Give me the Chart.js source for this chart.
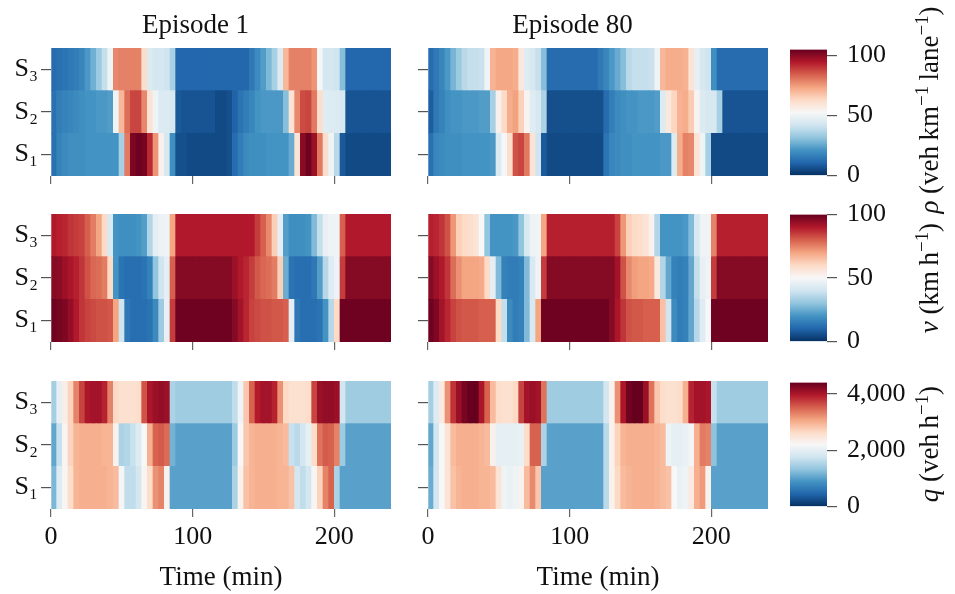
<!DOCTYPE html>
<html>
<head>
<meta charset="utf-8">
<script src="https://cdn.jsdelivr.net/npm/chart.js@4.4.1/dist/chart.umd.min.js"></script>
<style>
  body { margin: 0; background: #fff; width: 955px; height: 594px; overflow: hidden; position: relative; }
  canvas { position: absolute; }
  .cbl {
    position: absolute; transform: translate(-50%, -50%) rotate(-90deg);
    white-space: nowrap; font: 27px 'Liberation Serif', serif; color: #111; line-height: 1;
  }
  .cbl sup { font-size: 0.7em; vertical-align: 0.5em; line-height: 0; }
</style>
</head>
<body>
<canvas id="hm-rho-1" width="391" height="201" style="left:0;top:0"></canvas>
<canvas id="hm-rho-80" width="391" height="201" style="left:377px;top:0"></canvas>
<canvas id="hm-v-1" width="391" height="178" style="left:0;top:189px"></canvas>
<canvas id="hm-v-80" width="391" height="178" style="left:377px;top:189px"></canvas>
<canvas id="hm-q-1" width="391" height="238" style="left:0;top:356px"></canvas>
<canvas id="hm-q-80" width="391" height="238" style="left:377px;top:356px"></canvas>
<canvas id="cb-rho" width="147" height="177" style="left:790px;top:24px"></canvas>
<canvas id="cb-v" width="147" height="178" style="left:790px;top:189px"></canvas>
<canvas id="cb-q" width="147" height="175" style="left:790px;top:357px"></canvas>

<div class="cbl" style="left:929px;top:110px"><i>ρ</i> (veh&#8201;km<sup>−1</sup>&#8201;lane<sup>−1</sup>)</div>
<div class="cbl" style="left:929px;top:278px"><i>v</i> (km&#8201;h<sup>−1</sup>)</div>
<div class="cbl" style="left:929px;top:444px"><i>q</i> (veh&#8201;h<sup>−1</sup>)</div>

<script>
// --------------------------------------------------------------------------
// data: one value per 4-minute cell, rows S3 / S2 / S1
// --------------------------------------------------------------------------
const TIME = [0, 4, 8, 12, 16, 20, 24, 28, 32, 36, 40, 44, 48, 52, 56, 60, 64, 68, 72, 76,
  80, 84, 88, 92, 96, 100, 104, 108, 112, 116, 120, 124, 128, 132, 136, 140, 144, 148, 152, 156,
  160, 164, 168, 172, 176, 180, 184, 188, 192, 196, 200, 204, 208, 212, 216, 220, 224, 228, 232, 236];
const STEP = 4;
const ROWS = ['S₃', 'S₂', 'S₁'];
const X_TICKS = [0, 100, 200];
const EPISODES = ['Episode 1', 'Episode 80'];

// density (veh/km/lane)
const RHO_E1_S3 = [12, 13, 14, 15, 16, 18, 22, 27, 33, 40, 50, 78, 79, 79, 79, 79, 62, 45, 43, 43,
  42, 35, 11, 11, 11, 11, 11, 11, 11, 11, 11, 11, 11, 11, 11, 15, 19, 23, 29, 35,
  45, 70, 79, 79, 79, 79, 76, 52, 43, 43, 42, 30, 11, 11, 11, 11, 11, 11, 11, 11];
const RHO_E1_S2 = [13, 16, 17, 18, 19, 20, 21, 21, 22, 22, 23, 50, 70, 82, 88, 88, 78, 60, 50, 45,
  45, 44, 8, 7, 7, 7, 7, 7, 7, 5, 5, 6, 10, 14, 16, 18, 21, 22, 22, 22,
  22, 30, 60, 78, 87, 88, 80, 62, 46, 45, 45, 44, 7, 7, 7, 7, 7, 7, 7, 7];
const RHO_E1_S1 = [13, 17, 19, 20, 20, 20, 21, 21, 21, 21, 21, 21, 35, 80, 102, 104, 103, 92, 76, 55,
  44, 20, 6, 6, 5, 5, 5, 5, 5, 5, 5, 6, 12, 16, 19, 20, 20, 20, 21, 21,
  21, 21, 26, 60, 100, 104, 98, 80, 62, 50, 38, 8, 5, 5, 5, 5, 5, 5, 5, 5];
const RHO_E80_S3 = [12, 15, 18, 22, 28, 33, 38, 40, 40, 41, 50, 71, 73, 73, 73, 72, 58, 46, 44, 40,
  30, 12, 12, 12, 12, 12, 12, 12, 12, 12, 15, 18, 22, 26, 30, 38, 40, 40, 40, 41,
  50, 70, 72, 72, 72, 71, 60, 48, 44, 42, 20, 12, 12, 12, 12, 12, 12, 12, 12, 12];
const RHO_E80_S2 = [9, 15, 17, 20, 21, 21, 22, 22, 22, 23, 23, 35, 55, 63, 72, 74, 65, 54, 46, 44,
  36, 6, 6, 6, 6, 6, 6, 6, 6, 6, 6, 12, 16, 19, 20, 21, 21, 22, 22, 22,
  23, 45, 58, 64, 71, 72, 66, 54, 45, 44, 44, 35, 7, 7, 7, 7, 7, 7, 7, 7];
const RHO_E80_S1 = [13, 18, 19, 20, 20, 20, 21, 21, 21, 21, 21, 22, 45, 52, 62, 86, 88, 80, 60, 42,
  8, 5, 5, 5, 5, 5, 5, 5, 5, 5, 5, 14, 18, 19, 20, 20, 21, 21, 21, 21,
  21, 22, 22, 45, 72, 79, 78, 60, 50, 35, 5, 5, 5, 5, 5, 5, 5, 5, 5, 5];

// speed (km/h)
const SPD_E1_S3 = [90, 89, 88, 86, 85, 84, 80, 76, 70, 60, 42, 20, 19, 19, 19, 20, 22, 35, 45, 47,
  48, 70, 90, 90, 90, 90, 90, 90, 90, 90, 90, 90, 90, 90, 90, 90, 85, 80, 74, 62,
  45, 22, 19, 19, 19, 20, 28, 38, 46, 48, 48, 80, 90, 90, 90, 90, 90, 90, 90, 90];
const SPD_E1_S2 = [96, 95, 93, 91, 89, 86, 82, 79, 78, 76, 60, 20, 13, 12, 12, 12, 13, 16, 30, 40,
  45, 80, 96, 96, 96, 96, 96, 96, 96, 96, 96, 96, 93, 90, 88, 85, 81, 79, 78, 76,
  62, 25, 13, 12, 12, 12, 14, 22, 36, 44, 47, 85, 96, 96, 96, 96, 96, 96, 96, 96];
const SPD_E1_S1 = [99, 98, 97, 94, 90, 86, 84, 83, 82, 82, 81, 70, 40, 14, 12, 12, 12, 13, 18, 32,
  46, 85, 99, 99, 99, 99, 99, 99, 99, 99, 99, 99, 96, 92, 88, 84, 83, 82, 82, 81,
  81, 80, 45, 14, 12, 12, 12, 13, 20, 36, 60, 99, 99, 99, 99, 99, 99, 99, 99, 99];
const SPD_E80_S3 = [89, 88, 86, 82, 72, 62, 60, 59, 57, 50, 30, 20, 20, 20, 20, 21, 30, 42, 48, 48,
  70, 89, 89, 89, 89, 89, 89, 89, 89, 89, 89, 89, 89, 84, 72, 62, 60, 59, 57, 52,
  35, 20, 20, 20, 20, 21, 28, 42, 48, 48, 75, 89, 89, 89, 89, 89, 89, 89, 89, 89];
const SPD_E80_S2 = [96, 93, 90, 86, 78, 73, 70, 70, 70, 69, 60, 45, 28, 16, 15, 15, 16, 28, 42, 48,
  85, 96, 96, 96, 96, 96, 96, 96, 96, 96, 96, 96, 96, 92, 82, 74, 71, 70, 70, 69,
  55, 35, 24, 16, 15, 16, 24, 38, 46, 48, 85, 96, 96, 96, 96, 96, 96, 96, 96, 96];
const SPD_E80_S1 = [99, 97, 92, 88, 84, 82, 81, 81, 81, 80, 80, 80, 60, 38, 18, 15, 16, 28, 42, 70,
  99, 99, 99, 99, 99, 99, 99, 99, 99, 99, 99, 99, 96, 91, 86, 82, 81, 81, 80, 80,
  80, 65, 40, 18, 15, 16, 24, 36, 44, 50, 99, 99, 99, 99, 99, 99, 99, 99, 99, 99];

// flow (veh/h)
const FLOW_E1_S3 = [1450, 2000, 2350, 2700, 3300, 3700, 4000, 4050, 4050, 3900, 3300, 2650, 2550, 2550, 2550, 2600, 3600, 4000, 4100, 4150,
  4100, 1500, 1420, 1420, 1420, 1420, 1420, 1420, 1420, 1420, 1420, 1420, 1650, 2100, 2800, 3500, 3950, 4050, 4050, 3900,
  3200, 2650, 2550, 2550, 2550, 2600, 3700, 4100, 4150, 4150, 4100, 1800, 1420, 1420, 1420, 1420, 1420, 1420, 1420, 1420];
const FLOW_E1_S2 = [1050, 1700, 2250, 2700, 2950, 3000, 3000, 3000, 3000, 2950, 2950, 2300, 1500, 1550, 1700, 1900, 2200, 3000, 3500, 3550,
  3450, 1150, 1000, 1000, 1000, 1000, 1000, 1000, 1000, 1000, 1000, 1000, 1400, 2200, 2800, 2950, 3000, 3000, 3000, 3000,
  2950, 2900, 1700, 1600, 1800, 2000, 2600, 3400, 3550, 3500, 3300, 1400, 1000, 1000, 1000, 1000, 1000, 1000, 1000, 1000];
const FLOW_E1_S1 = [1200, 1900, 2250, 2600, 2950, 3000, 3000, 3000, 3000, 3000, 2950, 2900, 2150, 1650, 1650, 1800, 2250, 2600, 3200, 3300,
  2300, 1000, 1000, 1000, 1000, 1000, 1000, 1000, 1000, 1000, 1000, 1000, 1500, 2300, 2850, 2950, 3000, 3000, 3000, 3000,
  2950, 2950, 2850, 1800, 1650, 1800, 2250, 2700, 3300, 3500, 1500, 1000, 1000, 1000, 1000, 1000, 1000, 1000, 1000, 1000];
const FLOW_E80_S3 = [1450, 1900, 2400, 3200, 3800, 4100, 4300, 4400, 4400, 4000, 3500, 2900, 2600, 2550, 2550, 2650, 3700, 4050, 4100, 4050,
  3400, 1420, 1420, 1420, 1420, 1420, 1420, 1420, 1420, 1420, 1420, 1800, 2300, 3200, 4000, 4350, 4400, 4400, 4100, 3400,
  2800, 2600, 2550, 2550, 2600, 3000, 3900, 4050, 4050, 4000, 1700, 1420, 1420, 1420, 1420, 1420, 1420, 1420, 1420, 1420];
const FLOW_E80_S2 = [1050, 1800, 2200, 2500, 2900, 3000, 3000, 3000, 3000, 2950, 2900, 2300, 2000, 2000, 2000, 2000, 2050, 2600, 3500, 3500,
  1500, 1000, 1000, 1000, 1000, 1000, 1000, 1000, 1000, 1000, 1000, 1600, 2300, 2700, 2950, 3000, 3000, 3000, 3000, 3000,
  2950, 2900, 2100, 2000, 2000, 2050, 2150, 3000, 3350, 3300, 1300, 1000, 1000, 1000, 1000, 1000, 1000, 1000, 1000, 1000];
const FLOW_E80_S1 = [1100, 1800, 2200, 2500, 2850, 2950, 3000, 3000, 3000, 2950, 2950, 2900, 2500, 2100, 2050, 2100, 2300, 2900, 3250, 2800,
  1000, 1000, 1000, 1000, 1000, 1000, 1000, 1000, 1000, 1000, 1000, 1600, 2300, 2650, 2900, 2950, 3000, 3000, 3000, 3000,
  2950, 2900, 2850, 2200, 2050, 2100, 2400, 3000, 3150, 2300, 1000, 1000, 1000, 1000, 1000, 1000, 1000, 1000, 1000, 1000];

// colour limits and colourbar ticks
const RHO_MAX = 105, SPD_MAX = 100, FLOW_MAX = 4400;
const RHO_TICKS = [0, 50, 100];
const SPD_TICKS = [0, 50, 100];
const FLOW_TICKS = [0, 2000, 4000];

// matplotlib RdBu_r
const RDBU_R = ['#053061', '#2166ac', '#4393c3', '#92c5de', '#d1e5f0', '#f7f7f7',
  '#fddbc7', '#f4a582', '#d6604d', '#b2182b', '#67001f'];

Chart.defaults.font.family = "'Liberation Serif', 'Times New Roman', serif";
Chart.defaults.color = '#111';

function hexRgb(hex) {
  const n = parseInt(hex.slice(1), 16);
  return [(n >> 16) & 255, (n >> 8) & 255, n & 255];
}

function rdbu(f) {
  f = Math.min(1, Math.max(0, f));
  const p = f * (RDBU_R.length - 1);
  const i = Math.min(Math.floor(p), RDBU_R.length - 2);
  const t = p - i;
  const a = hexRgb(RDBU_R[i]), b = hexRgb(RDBU_R[i + 1]);
  const c = a.map((v, k) => Math.round(v + (b[k] - v) * t));
  return `rgb(${c[0]},${c[1]},${c[2]})`;
}

// heatmap = one horizontal floating bar per (row, time cell)
function renderHeatmap(id, series, vmax, opts) {
  const data = [], colors = [];
  series.forEach((vals, r) => {
    vals.forEach((v, i) => {
      data.push({ x: [TIME[i], TIME[i] + STEP], y: ROWS[r] });
      colors.push(rdbu(v / vmax));
    });
  });
  const showX = !!opts.bottom;
  const showY = !!opts.left;
  return new Chart(document.getElementById(id), {
    type: 'bar',
    data: {
      labels: ROWS,
      datasets: [{ data, backgroundColor: colors, borderWidth: 0, barPercentage: 1, categoryPercentage: 1 }],
    },
    options: {
      indexAxis: 'y',
      responsive: false,
      animation: false,
      layout: { padding: { top: opts.title ? 0 : 25, left: 0, right: 0, bottom: 0 } },
      plugins: {
        legend: { display: false },
        tooltip: { enabled: false },
        title: {
          display: !!opts.title, text: opts.title || '', color: '#111',
          font: { size: 27, weight: 'normal' }, padding: { top: 10, bottom: 5.6 },
        },
      },
      scales: {
        x: {
          type: 'linear', min: 0, max: 240,
          afterBuildTicks: (a) => { a.ticks = X_TICKS.map(v => ({ value: v })); },
          afterFit: (a) => { a.height = showX ? 85 : 25; },
          grid: { drawOnChartArea: false, tickLength: 8, color: '#666', lineWidth: 1.2 },
          border: { display: false },
          ticks: { display: showX, padding: 5, font: { size: 26 }, color: '#111' },
          title: { display: showX, text: 'Time (min)', color: '#111', font: { size: 27 }, padding: { top: 0, bottom: 0 } },
        },
        y: {
          type: 'category', labels: ROWS,
          afterFit: (a) => { a.width = 51; },
          grid: { offset: false, drawOnChartArea: false, tickLength: 10, color: '#555', lineWidth: 1.2 },
          border: { display: false },
          ticks: { display: showY, padding: 3, font: { size: 26 }, color: '#111' },
        },
      },
    },
  });
}

function renderColorbar(id, vmax, ticks) {
  return new Chart(document.getElementById(id), {
    type: 'bar',
    data: {
      labels: [''],
      datasets: [{
        data: [[0, vmax]], borderWidth: 0, barPercentage: 1, categoryPercentage: 1,
        backgroundColor: (c) => {
          const area = c.chart.chartArea;
          if (!area) return RDBU_R[5];
          const g = c.chart.ctx.createLinearGradient(0, area.bottom, 0, area.top);
          RDBU_R.forEach((col, k) => g.addColorStop(k / (RDBU_R.length - 1), col));
          return g;
        },
      }],
    },
    options: {
      responsive: false,
      animation: false,
      layout: { padding: { top: 25, bottom: 25, left: 0, right: 0 } },
      plugins: { legend: { display: false }, tooltip: { enabled: false } },
      scales: {
        x: { display: false },
        y: {
          position: 'right', min: 0, max: vmax,
          afterBuildTicks: (a) => { a.ticks = ticks.map(v => ({ value: v })); },
          afterFit: (a) => { a.width = 110; },
          grid: { drawOnChartArea: false, tickLength: 10, color: '#555', lineWidth: 1.2 },
          border: { display: false },
          ticks: { padding: 10, font: { size: 26 }, color: '#111', callback: (v) => v.toLocaleString('en-US') },
        },
      },
    },
  });
}

renderHeatmap('hm-rho-1', [RHO_E1_S3, RHO_E1_S2, RHO_E1_S1], RHO_MAX, { title: EPISODES[0], left: true });
renderHeatmap('hm-rho-80', [RHO_E80_S3, RHO_E80_S2, RHO_E80_S1], RHO_MAX, { title: EPISODES[1] });
renderHeatmap('hm-v-1', [SPD_E1_S3, SPD_E1_S2, SPD_E1_S1], SPD_MAX, { left: true });
renderHeatmap('hm-v-80', [SPD_E80_S3, SPD_E80_S2, SPD_E80_S1], SPD_MAX, {});
renderHeatmap('hm-q-1', [FLOW_E1_S3, FLOW_E1_S2, FLOW_E1_S1], FLOW_MAX, { bottom: true, left: true });
renderHeatmap('hm-q-80', [FLOW_E80_S3, FLOW_E80_S2, FLOW_E80_S1], FLOW_MAX, { bottom: true });

renderColorbar('cb-rho', RHO_MAX, RHO_TICKS);
renderColorbar('cb-v', SPD_MAX, SPD_TICKS);
renderColorbar('cb-q', FLOW_MAX, FLOW_TICKS);
</script>
</body>
</html>
